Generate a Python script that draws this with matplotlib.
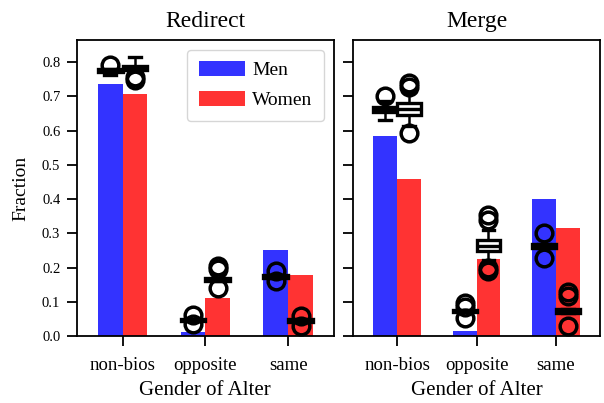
import matplotlib
matplotlib.use("Agg")
import matplotlib.pyplot as plt
import numpy as np

plt.rcParams['font.family'] = ['Liberation Serif', 'DejaVu Serif']

categories = ["non-bios", "opposite", "same"]
panels = ["Redirect", "Merge"]

# bar heights
bars_men = {"Redirect": [0.735, 0.013, 0.252], "Merge": [0.585, 0.015, 0.399]}
bars_women = {"Redirect": [0.708, 0.111, 0.179], "Merge": [0.458, 0.226, 0.317]}

# boxplot statistics: (whislo, q1, med, q3, whishi)
box_men = {
    "Redirect": [(0.762, 0.770, 0.775, 0.780, 0.780),
                 (0.045, 0.045, 0.047, 0.050, 0.050),
                 (0.170, 0.170, 0.174, 0.178, 0.178)],
    "Merge": [(0.632, 0.655, 0.660, 0.668, 0.688),
              (0.070, 0.070, 0.073, 0.077, 0.077),
              (0.257, 0.257, 0.263, 0.270, 0.270)],
}
box_women = {
    "Redirect": [(0.776, 0.778, 0.785, 0.790, 0.815),
                 (0.160, 0.160, 0.165, 0.170, 0.170),
                 (0.042, 0.042, 0.046, 0.050, 0.050)],
    "Merge": [(0.615, 0.646, 0.662, 0.682, 0.712),
              (0.222, 0.248, 0.262, 0.280, 0.310),
              (0.068, 0.068, 0.074, 0.080, 0.080)],
}
fliers_men = {
    "Redirect": [[0.792], [0.063, 0.036], [0.190, 0.160]],
    "Merge": [[0.700], [0.097, 0.086, 0.052], [0.300, 0.228]],
}
fliers_women = {
    "Redirect": [[0.748, 0.757], [0.205, 0.195, 0.140], [0.060, 0.030]],
    "Merge": [[0.740, 0.728, 0.592], [0.355, 0.338, 0.200, 0.190], [0.130, 0.118, 0.030]],
}

blue = (0.2, 0.2, 1.0)
red = (1.0, 0.2, 0.2)

fig = plt.figure(figsize=(6.04, 4.03), dpi=100)
ax1 = fig.add_axes([0.1275, 0.166, 0.425, 0.735])
ax2 = fig.add_axes([0.585, 0.166, 0.408, 0.735])

x = np.arange(len(categories))
w = 0.3

def make_stats(stats, fl):
    out = []
    for (lo, q1, med, q3, hi), f in zip(stats, fl):
        out.append(dict(whislo=lo, q1=q1, med=med, q3=q3, whishi=hi, fliers=f))
    return out

for ax, name in zip([ax1, ax2], panels):
    ax.bar(x - w / 2, bars_men[name], w, color=blue, label="Men", zorder=1)
    ax.bar(x + w / 2, bars_women[name], w, color=red, label="Women", zorder=1)
    lp = dict(color="black", linewidth=2.4)
    for pos, st, fl in [(x - w / 2, box_men[name], fliers_men[name]),
                        (x + w / 2, box_women[name], fliers_women[name])]:
        ax.bxp(make_stats(st, fl), positions=pos, widths=0.3, patch_artist=True,
               boxprops=dict(facecolor="white", edgecolor="black", linewidth=2.4),
               medianprops=lp, whiskerprops=dict(color="black", linewidth=1.8),
               capprops=lp, capwidths=0.15,
               flierprops=dict(marker="o", markerfacecolor="none", markeredgecolor="black",
                               markersize=12, markeredgewidth=2.5),
               manage_ticks=False, zorder=3)
    ax.set_xlim(-0.55, 2.55)
    ax.set_ylim(0, 0.865)
    ax.set_xticks(x)
    ax.set_xticklabels(categories, fontsize=13.5)
    ax.set_yticks(np.arange(0, 0.81, 0.1))
    ax.set_title(name, fontsize=17, pad=9)
    ax.set_xlabel("Gender of Alter", fontsize=15, labelpad=5)
    ax.tick_params(axis="both", length=7, width=1.3, pad=5)
    ax.tick_params(axis="x", pad=8)
    for s in ax.spines.values():
        s.set_linewidth(1.3)

ax1.set_yticklabels([f"{v:.1f}" for v in np.arange(0, 0.81, 0.1)], fontsize=10.5)
ax2.set_yticklabels([])
ax1.set_ylabel("Fraction", fontsize=14, labelpad=9)
ax1.legend(loc="upper right", fontsize=14, handlelength=2.4, handleheight=0.8,
           borderpad=0.6, labelspacing=0.6, handletextpad=0.35,
           fancybox=True, framealpha=0.8, borderaxespad=0.5)

fig.savefig("out.png", dpi=100)
